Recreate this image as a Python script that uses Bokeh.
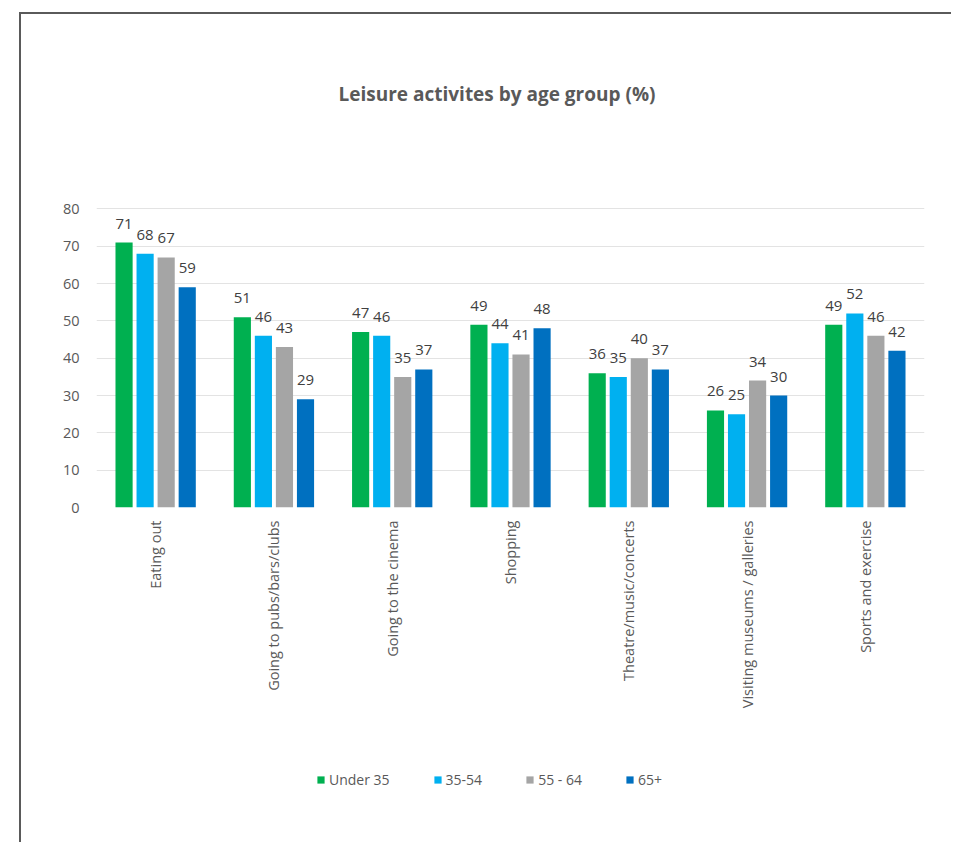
import math
from bokeh.plotting import figure
from bokeh.layouts import column
from bokeh.models import ColumnDataSource, FactorRange, Title, Legend, LegendItem
from bokeh.transform import dodge
from bokeh.core.properties import value
from bokeh.embed import file_html
from bokeh.resources import INLINE

categories = ["Eating out", "Going to pubs/bars/clubs", "Going to the cinema", "Shopping",
              "Theatre/music/concerts", "Visiting museums / galleries", "Sports and exercise"]
under_35 = [71, 51, 47, 49, 36, 26, 49]
age_35_54 = [68, 46, 46, 44, 35, 25, 52]
age_55_64 = [67, 43, 35, 41, 40, 34, 46]
age_65_plus = [59, 29, 37, 48, 37, 30, 42]
series_names = ["Under 35", "35-54", "55 - 64", "65+"]
y_ticks = [0, 10, 20, 30, 40, 50, 60, 70, 80]

colors = ["#00B050", "#00B0F0", "#A5A5A5", "#0070C0"]
FONT = "Open Sans"
keys = ["s0", "s1", "s2", "s3"]

data = dict(cat=categories, s0=under_35, s1=age_35_54, s2=age_55_64, s3=age_65_plus)
for k in keys:
    data[k + "_lbl"] = [str(v) for v in data[k]]
source = ColumnDataSource(data)

# y range headroom above the 80 gridline (frame extends above top gridline)
p = figure(x_range=FactorRange(*categories), y_range=(0, 90.3),
           width=930, height=723, output_backend="svg", toolbar_location=None,
           min_border_left=75, min_border_right=27, min_border_top=155, min_border_bottom=230)
p.outline_line_color = None
p.background_fill_color = "white"
p.border_fill_color = "white"

offsets = [-0.267, -0.089, 0.089, 0.267]
bar_w = 0.145
for i, k in enumerate(keys):
    p.vbar(x=dodge("cat", offsets[i], range=p.x_range), top=k, width=bar_w,
           source=source, fill_color=colors[i], line_color=None)
    p.text(x=dodge("cat", offsets[i], range=p.x_range), y=k, text=k + "_lbl", source=source,
           text_align="center", text_baseline="alphabetic", y_offset=-19,
           text_font=value(FONT), text_font_size="15px", text_color="#404040")

# axes
p.yaxis.ticker = y_ticks
p.yaxis.axis_line_color = None
p.yaxis.major_tick_line_color = None
p.yaxis.minor_tick_line_color = None
p.yaxis.major_label_standoff = 11
p.yaxis.major_label_text_font = FONT
p.yaxis.major_label_text_font_size = "14.5px"
p.yaxis.major_label_text_color = "#595959"

p.xaxis.axis_line_color = None
p.xaxis.major_tick_line_color = None
p.xaxis.major_label_orientation = math.pi / 2
p.xaxis.major_label_standoff = 7
p.xaxis.major_label_text_font = FONT
p.xaxis.major_label_text_font_size = "14.5px"
p.xaxis.major_label_text_color = "#595959"

p.xgrid.grid_line_color = None
p.ygrid.grid_line_color = "#e3e3e3"
p.ygrid.grid_line_width = 1

# title
t = Title(text="Leisure activites by age group (%)", align="left", offset=242,
          text_font=FONT, text_font_size="19px", text_font_style="bold",
          text_color="#595959", standoff=128)
p.add_layout(t, "above")

# legend strip: same series, y range kept above the data so no bar is visible there
lg = figure(width=930, height=105, output_backend="svg", toolbar_location=None,
            x_range=p.x_range, y_range=(100, 101), x_axis_location=None, y_axis_location=None,
            min_border_left=0, min_border_right=0, min_border_top=0, min_border_bottom=0)
lg.grid.visible = False
lg.outline_line_color = None
lg.border_fill_color = "white"
lg.background_fill_color = "white"
leg_renderers = [lg.vbar(x=dodge("cat", offsets[i], range=lg.x_range), top=k, width=bar_w,
                         source=source, fill_color=colors[i], line_color=None)
                 for i, k in enumerate(keys)]

legend = Legend(items=[LegendItem(label=series_names[i], renderers=[leg_renderers[i]]) for i in range(4)],
                orientation="horizontal", location=(220, 53),
                glyph_width=9, glyph_height=9, label_standoff=4, spacing=43,
                padding=0, margin=0, border_line_color=None, background_fill_alpha=0,
                label_text_font=FONT, label_text_font_size="14px", label_text_color="#595959")
lg.add_layout(legend, "center")

layout = column(p, lg, spacing=0)
layout.styles = {"border-left": "2px solid #5a5a5a", "border-top": "2px solid #5a5a5a",
                 "margin-left": "19px", "margin-top": "12px"}

open("out.html", "w").write(file_html(layout, INLINE))
